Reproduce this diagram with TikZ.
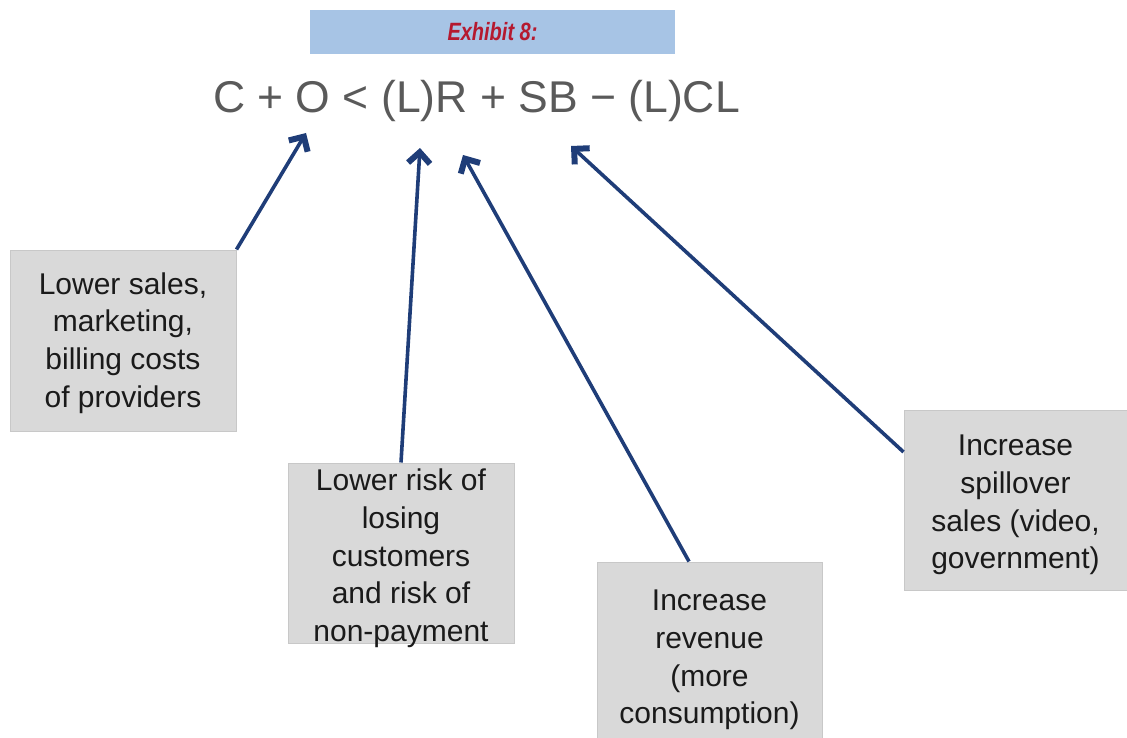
\documentclass[tikz,border=0pt]{standalone}
\usepackage{fontspec}
\setmainfont{Liberation Sans}
\newfontfamily\condfont[FakeStretch=0.8]{Liberation Sans}
\usetikzlibrary{arrows.meta}
\definecolor{boxfill}{HTML}{D9D9D9}
\definecolor{boxline}{HTML}{C8C8C8}
\definecolor{banner}{HTML}{A7C4E5}
\definecolor{titlered}{HTML}{B5192F}
\definecolor{eqgray}{HTML}{5A5A5A}
\definecolor{arrowblue}{HTML}{1F3D78}
\definecolor{txt}{HTML}{1A1A1A}
\tikzset{
  infobox/.style={draw=boxline, line width=1pt, fill=boxfill, inner sep=0pt},
  boxtext/.style={text=txt, align=center, inner sep=0pt,
    font=\fontsize{30}{37.7}\selectfont},
  pointer/.style={draw=arrowblue, line width=3.6pt,
    -{Straight Barb[length=11pt,width=22pt,line width=6pt]}}
}
\begin{document}
\begin{tikzpicture}[x=1pt,y=-1pt]
\useasboundingbox (0,0) rectangle (1127,738);
\node[fill=banner, minimum width=365pt, minimum height=44pt, inner sep=0pt,
  text=titlered, font=\condfont\bfseries\itshape\fontsize{25}{28}\selectfont]
  (title) at (492.5,32) {Exhibit 8:};
\node[text=eqgray, font=\fontsize{44.5}{50}\selectfont, inner sep=0pt] (eq) at (476.5,101)
  {C + O < (L)R + SB − (L)CL};
\coordinate (tO) at (306,133);
\coordinate (tL) at (420,148);
\coordinate (tR) at (463,155);
\coordinate (tSB) at (571,146);
\node[infobox, minimum width=226pt, minimum height=181pt] (b1) at (123,340.5) {};
\node[boxtext] (b1t) at (123,343) {Lower sales,\\marketing,\\billing costs\\of providers};
\node[infobox, minimum width=226pt, minimum height=180pt] (b2) at (401,553) {};
\node[boxtext] (b2t) at (401,558.5) {Lower risk of\\losing\\customers\\and risk of\\non-payment};
\node[infobox, minimum width=225pt, minimum height=190pt] (b3) at (709.5,657) {};
\node[boxtext] (b3t) at (709.5,660) {Increase\\revenue\\(more\\consumption)};
\node[infobox, minimum width=223pt, minimum height=180pt] (b4) at (1015.5,500) {};
\node[boxtext] (b4t) at (1015.5,505) {Increase\\spillover\\sales (video,\\government)};
\draw[pointer] (b1.north east) -- (tO);
\draw[pointer] (b2.north) -- (tL);
\draw[pointer] ([xshift=-20.5pt]b3.north) -- (tR);
\draw[pointer] ([yshift=48pt]b4.west) -- (tSB);
\end{tikzpicture}
\end{document}
